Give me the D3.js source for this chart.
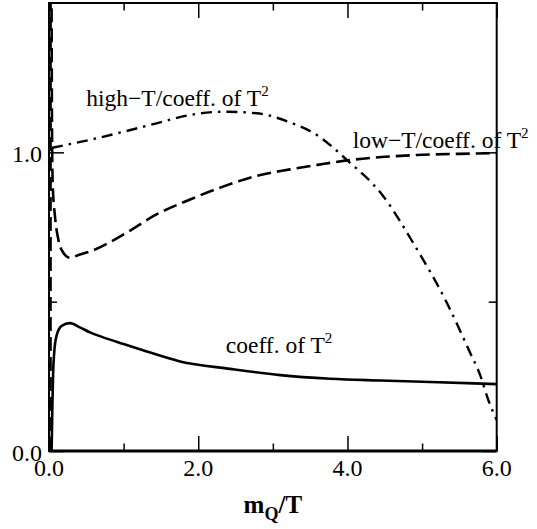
<!DOCTYPE html>
<html>
<head>
<meta charset="utf-8">
<script src="https://cdn.jsdelivr.net/npm/d3@7"></script>
<style>
  html, body { margin: 0; padding: 0; background: #fff; }
  svg { display: block; }
</style>
</head>
<body>
<svg id="chart" width="537" height="529"></svg>
<script>
// ---- data ----
const coeffX = [0.035, 0.045, 0.055, 0.07, 0.1, 0.17, 0.28, 0.415, 0.55, 0.7, 1.0, 1.3, 1.756, 2.43, 3.1, 3.77, 4.44, 5.11, 6.0];
const coeffY = [0.0, 0.15, 0.26, 0.33, 0.385, 0.419, 0.428, 0.414, 0.397, 0.383, 0.358, 0.334, 0.300, 0.275, 0.254, 0.242, 0.236, 0.231, 0.224];

const lowX = [0.034, 0.038, 0.043, 0.049, 0.08, 0.125, 0.192, 0.28, 0.415, 0.55, 1.0, 1.44, 1.89, 2.34, 2.78, 3.23, 3.6, 4.03, 4.5, 4.93, 5.5, 6.0];
const lowY = [1.55, 1.2, 1.0, 0.897, 0.786, 0.708, 0.664, 0.647, 0.658, 0.668, 0.725, 0.792, 0.842, 0.886, 0.921, 0.943, 0.958, 0.974, 0.985, 0.991, 0.995, 0.997];

const lowBranchX = [0.02, 0.021];
const lowBranchY = [0.0, 1.55];

const highX = [0.04, 0.55, 1.0, 1.44, 1.89, 2.34, 2.78, 3.2, 3.59, 3.99, 4.48, 4.88, 5.33, 5.64, 5.78, 5.89, 6.0];
const highY = [1.015, 1.042, 1.069, 1.097, 1.125, 1.136, 1.131, 1.103, 1.058, 0.975, 0.853, 0.697, 0.497, 0.331, 0.253, 0.169, 0.104];

const xTickLabels = ["0.0", "2.0", "4.0", "6.0"];
const xMajor = [0, 2, 4, 6];
const xMinor = [1, 3, 5];
const yTickLabels = ["0.0", "1.0"];
const yMajor = [0, 1.0];
const yMinor = [0.5];

const annotations = [
  { text: "high\u2212T/coeff. of T", x: 0.5, y: 1.156 },
  { text: "low\u2212T/coeff. of T", x: 4.07, y: 1.013 },
  { text: "coeff. of T", x: 2.37, y: 0.327 }
];

// ---- layout ----
const FONT = "'Liberation Serif', 'Times New Roman', Times, 'DejaVu Serif', serif";
const svg = d3.select("#chart");
const L = 49, R = 496.7, T = 3, B = 451;
const x = d3.scaleLinear().domain([0, 6]).range([L, R]);
const y = d3.scaleLinear().domain([0, 1.5]).range([B, T]);

svg.append("defs").append("clipPath").attr("id", "clip")
  .append("rect").attr("x", L).attr("y", T).attr("width", R - L).attr("height", B - T);

const line = d3.line().x(d => x(d[0])).y(d => y(d[1])).curve(d3.curveMonotoneX);
const zip = (a, b) => a.map((v, i) => [v, b[i]]);

const g = svg.append("g").attr("clip-path", "url(#clip)");
g.append("path").datum(zip(coeffX, coeffY)).attr("d", line)
  .attr("fill", "none").attr("stroke", "#000").attr("stroke-width", 2.6);
g.append("path").datum(zip(lowBranchX, lowBranchY)).attr("d", line)
  .attr("fill", "none").attr("stroke", "#000").attr("stroke-width", 2.6)
  .attr("stroke-dasharray", "14,6");
g.append("path").datum(zip(lowX, lowY)).attr("d", line)
  .attr("fill", "none").attr("stroke", "#000").attr("stroke-width", 2.6)
  .attr("stroke-dasharray", "14,6");
g.append("path").datum(zip(highX, highY)).attr("d", line)
  .attr("fill", "none").attr("stroke", "#000").attr("stroke-width", 2.4)
  .attr("stroke-dasharray", "11,6,2.5,6");

// ---- axes with inward ticks on all sides ----
const bottomAxis = d3.axisBottom(x).tickValues(xMajor).tickSize(-15).tickFormat(() => "");
const bottomMinor = d3.axisBottom(x).tickValues(xMinor).tickSize(-7.5).tickFormat(() => "");
const topAxis = d3.axisTop(x).tickValues(xMajor).tickSize(-15).tickFormat(() => "");
const topMinor = d3.axisTop(x).tickValues(xMinor).tickSize(-7.5).tickFormat(() => "");
const leftAxis = d3.axisLeft(y).tickValues(yMajor).tickSize(-15).tickFormat(() => "");
const leftMinor = d3.axisLeft(y).tickValues(yMinor).tickSize(-8).tickFormat(() => "");
const rightAxis = d3.axisRight(y).tickValues(yMajor).tickSize(-15).tickFormat(() => "");
const rightMinor = d3.axisRight(y).tickValues(yMinor).tickSize(-8).tickFormat(() => "");

function styleAxis(sel) {
  sel.selectAll(".domain").remove();
  sel.selectAll("line").attr("stroke", "#000").attr("stroke-width", 1.5);
}
[[bottomAxis, `translate(0,${B})`], [bottomMinor, `translate(0,${B})`],
 [topAxis, `translate(0,${T})`], [topMinor, `translate(0,${T})`],
 [leftAxis, `translate(${L},0)`], [leftMinor, `translate(${L},0)`],
 [rightAxis, `translate(${R},0)`], [rightMinor, `translate(${R},0)`]]
 .forEach(([ax, tr]) => svg.append("g").attr("transform", tr).call(ax).call(styleAxis));

// frame
svg.append("rect").attr("x", L).attr("y", T).attr("width", R - L).attr("height", B - T)
  .attr("fill", "none").attr("stroke", "#000").attr("stroke-width", 2);
svg.append("line").attr("x1", L).attr("x2", R).attr("y1", B).attr("y2", B)
  .attr("stroke", "#000").attr("stroke-width", 2.8);

// tick labels
svg.selectAll(".xl").data(xMajor).enter().append("text")
  .attr("font-family", FONT).attr("fill", "#000")
  .attr("x", d => x(d)).attr("y", 476).attr("text-anchor", "middle")
  .attr("font-size", 24).text((d, i) => xTickLabels[i]);
svg.selectAll(".yl").data(yMajor).enter().append("text")
  .attr("font-family", FONT).attr("fill", "#000")
  .attr("x", 42).attr("y", d => y(d) + 9.5).attr("text-anchor", "end")
  .attr("font-size", 24).text((d, i) => yTickLabels[i]);

// axis title m_Q/T
const title = svg.append("text").attr("x", (L + R) / 2).attr("y", 513)
  .attr("font-family", FONT).attr("fill", "#000")
  .attr("text-anchor", "middle").attr("font-size", 25).attr("font-weight", "bold");
title.append("tspan").text("m");
title.append("tspan").attr("font-size", 18).attr("dy", 7).text("Q");
title.append("tspan").attr("dy", -7).text("/T");

// annotations
annotations.forEach(a => {
  const t = svg.append("text").attr("x", x(a.x)).attr("y", y(a.y))
    .attr("font-family", FONT).attr("fill", "#000").attr("font-size", 23.5);
  t.append("tspan").text(a.text);
  t.append("tspan").attr("font-size", 15).attr("dy", -10).text("2");
});
</script>
</body>
</html>
